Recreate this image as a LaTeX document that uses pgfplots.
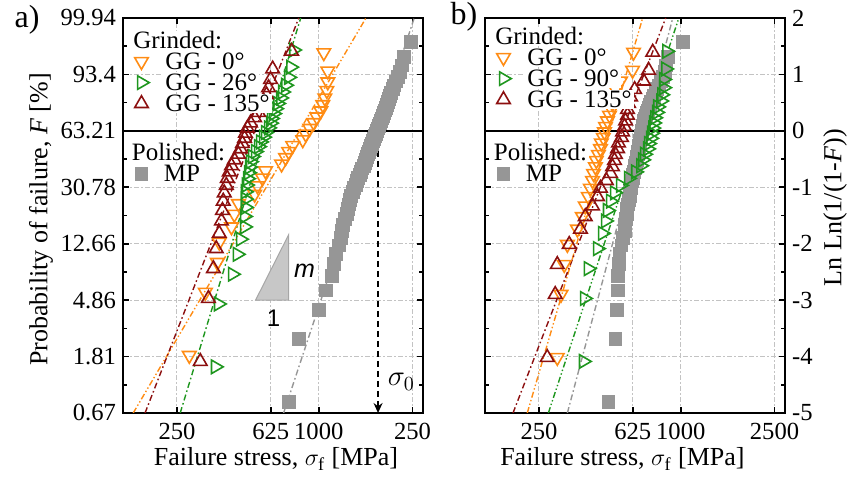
\documentclass[border=0pt]{standalone}
\usepackage{fontspec}
\setmainfont{Liberation Serif}
\newfontfamily\annosans{Liberation Sans}
\usepackage{pgfplots}
\pgfplotsset{compat=1.18}
\usetikzlibrary{arrows.meta}

\definecolor{ggorange}{RGB}{255,140,20}
\definecolor{gggreen}{RGB}{30,150,30}
\definecolor{ggred}{RGB}{140,15,15}
\definecolor{mpgray}{RGB}{150,150,150}
\definecolor{gridgray}{RGB}{195,195,195}

% Weibull data: failure stress [MPa] and ln(ln(1/(1-F)))
\pgfplotstableread{
x y
745 -4.800
822 -3.693
1000 -3.174
1071 -2.829
1136 -2.569
1159 -2.359
1182 -2.183
1217 -2.031
1241 -1.897
1253 -1.776
1266 -1.667
1291 -1.566
1316 -1.473
1329 -1.386
1342 -1.304
1356 -1.227
1369 -1.154
1396 -1.084
1410 -1.018
1438 -0.954
1452 -0.893
1467 -0.833
1496 -0.776
1510 -0.721
1525 -0.666
1555 -0.614
1571 -0.562
1586 -0.512
1602 -0.463
1618 -0.414
1634 -0.367
1650 -0.319
1666 -0.273
1683 -0.227
1699 -0.182
1716 -0.137
1733 -0.092
1750 -0.047
1767 -0.003
1785 0.042
1802 0.087
1820 0.132
1838 0.177
1856 0.222
1874 0.268
1893 0.315
1911 0.362
1930 0.411
1949 0.461
1968 0.512
1988 0.565
2007 0.620
2027 0.679
2067 0.740
2087 0.806
2129 0.878
2171 0.958
2214 1.050
2258 1.161
2302 1.310
2468 1.570
}\mpA

\pgfplotstableread{
x y
282 -3.980
330 -2.862
371 -2.331
378 -1.974
426 -1.702
438 -1.479
456 -1.290
534 -1.123
549 -0.973
577 -0.836
594 -0.708
695 -0.589
723 -0.475
745 -0.367
775 -0.261
855 -0.158
880 -0.057
915 0.044
952 0.145
981 0.248
1020 0.354
1040 0.465
1061 0.583
1082 0.715
1092 0.867
1092 1.061
1050 1.384
}\ggzeroA

\pgfplotstableread{
x y
364 -4.182
375 -3.068
430 -2.541
451 -2.188
465 -1.920
484 -1.702
484 -1.517
488 -1.356
488 -1.211
488 -1.080
493 -0.960
498 -0.848
503 -0.742
508 -0.642
513 -0.547
523 -0.455
539 -0.367
555 -0.280
566 -0.196
583 -0.112
594 -0.030
612 0.053
624 0.136
630 0.219
643 0.305
656 0.393
669 0.485
689 0.583
702 0.689
723 0.808
745 0.948
760 1.129
782 1.433
}\ggmidA

\pgfplotstableread{
x y
314 -4.086
340 -2.970
357 -2.442
367 -2.087
378 -1.817
386 -1.597
390 -1.410
393 -1.246
397 -1.099
405 -0.966
409 -0.842
417 -0.727
426 -0.618
438 -0.514
456 -0.415
465 -0.319
474 -0.225
484 -0.133
488 -0.042
498 0.049
513 0.140
534 0.232
555 0.327
566 0.425
583 0.529
600 0.640
612 0.765
624 0.910
637 1.097
767 1.410
}\ggoneA

\pgfplotstableread{
x y
493 -4.800
528 -3.693
534 -3.174
539 -2.829
539 -2.569
544 -2.359
549 -2.183
560 -2.031
566 -1.897
577 -1.776
577 -1.667
583 -1.566
589 -1.473
589 -1.386
594 -1.304
600 -1.227
606 -1.154
606 -1.084
612 -1.018
612 -0.954
618 -0.893
624 -0.833
624 -0.776
630 -0.721
637 -0.666
637 -0.614
643 -0.562
649 -0.512
649 -0.463
656 -0.414
656 -0.367
662 -0.319
662 -0.273
669 -0.227
669 -0.182
676 -0.137
676 -0.092
682 -0.047
682 -0.003
689 0.042
689 0.087
695 0.132
695 0.177
702 0.222
709 0.268
716 0.315
723 0.362
730 0.411
738 0.461
745 0.512
760 0.565
767 0.620
782 0.679
790 0.740
806 0.806
822 0.878
838 0.958
855 1.050
863 1.161
880 1.310
1020 1.570
}\mpB

\pgfplotstableread{
x y
299 -4.016
310 -2.899
320 -2.369
330 -2.013
364 -1.742
382 -1.520
393 -1.331
405 -1.165
413 -1.017
422 -0.881
426 -0.755
434 -0.637
438 -0.525
447 -0.419
456 -0.315
460 -0.215
469 -0.117
474 -0.019
479 0.078
488 0.176
498 0.276
508 0.379
513 0.487
523 0.603
528 0.732
555 0.882
624 1.074
630 1.393
}\ggzeroB

\pgfplotstableread{
x y
386 -4.086
390 -2.970
405 -2.442
443 -2.087
465 -1.817
479 -1.597
488 -1.410
503 -1.246
523 -1.099
555 -0.966
600 -0.842
643 -0.727
676 -0.618
689 -0.514
702 -0.415
723 -0.319
730 -0.225
745 -0.133
752 -0.042
760 0.049
767 0.140
775 0.232
790 0.327
798 0.425
822 0.529
830 0.640
846 0.765
846 0.910
863 1.097
872 1.410
}\ggmidB

\pgfplotstableread{
x y
271 -4.016
293 -2.899
299 -2.369
336 -2.013
375 -1.742
393 -1.520
422 -1.331
443 -1.165
456 -1.017
483 -0.881
503 -0.755
513 -0.637
523 -0.525
528 -0.419
539 -0.315
544 -0.215
560 -0.117
566 -0.019
577 0.078
583 0.176
594 0.276
594 0.379
600 0.487
612 0.603
637 0.732
695 0.882
730 1.074
760 1.393
}\ggoneB

\tikzset{
  fitline/.style={line width=0.7pt, dash pattern=on 3pt off 1.4pt on 0.8pt off 1.4pt},
  fitlineb/.style={line width=0.7pt, dash pattern=on 3pt off 1.2pt on 0.7pt off 1.2pt on 0.7pt off 1.2pt},
}
% legend look shared by all blocks (white only behind each entry)
\pgfplotsset{
  weiblegend/.style={
    legend cell align=left,
    legend style={draw=none, fill=none, font=\fontsize{12.5}{15}\selectfont,
      inner xsep=0.5pt, inner ysep=0pt, row sep=1.3pt, column sep=7pt,
      nodes={fill=white, inner ysep=0pt, inner xsep=1pt, text height=8.6pt, text depth=0.6pt}},
  },
}

\begin{document}
\begin{tikzpicture}
\path[use as bounding box] (-61.5pt,-36pt) rectangle (362pt,206.5pt);

% ---------------- panel a ----------------
\begin{axis}[
  name=A, at={(0pt,0pt)}, anchor=south west,
  scale only axis, width=150pt, height=197.5pt,
  xmode=log, xmin=147.5, xmax=2770, ymin=-5, ymax=2,
  xtick={250,625,1000,2500},
  xticklabels={250,625,1000,250},
  minor xtick={},
  ytick={-5,-4,-3,-2,-1,0,1,2},
  yticklabels={0.67,1.81,4.86,12.66,30.78,63.21,93.4,99.94},
  minor ytick={-4.5,-3.5,-2.5,-1.5,-0.5,0.5,1.5},
  grid=major,
  major grid style={gridgray, line width=0.5pt, dash pattern=on 2.5pt off 1.2pt on 0.6pt off 1.2pt},
  axis line style={line width=1pt},
  every tick/.style={black, line width=0.8pt},
  major tick length=3pt, minor tick length=2pt,
  every tick label/.append style={font=\fontsize{12.3}{14}\selectfont},
  every x tick label/.append style={yshift=-1.5pt},
  every axis label/.append style={font=\fontsize{13}{15}\selectfont},
  xlabel={Failure stress, $\sigma_{\mathrm{f}}$ [MPa]},
  ylabel={Probability of failure, \textit{F} [\%]},
  every axis x label/.append style={at={(axis description cs:0.51,-0.117)}, anchor=center},
  every axis y label/.append style={at={(axis description cs:-0.273,0.49)}, anchor=center},
  weiblegend,
  legend style={at={(axis description cs:0,1)}, anchor=north west, yshift=-6.5pt},
]
\addlegendimage{empty legend}\addlegendentry{\hspace*{-16pt}Grinded:}

% Weibull fits
\addplot[fitline, mpgray, forget plot] coordinates {(709,-5) (2542,2)};
\addplot[fitlineb, ggorange, forget plot] coordinates {(163,-5) (1586,2)};
\addplot[fitline, ggred, forget plot] coordinates {(183,-5) (822,2)};
\addplot[fitline, gggreen, forget plot] coordinates {(258,-5) (838,2)};

% polished specimens
\addplot[only marks, mark=square*, mark size=3.2pt, color=mpgray, forget plot] table {\mpA};

% ground specimens
\addplot[only marks, mark=triangle, mark size=3.9pt, color=ggorange,
  mark options={rotate=180, line width=0.8pt}] table {\ggzeroA};
\addlegendentry{GG - 0°}
\addplot[only marks, mark=triangle, mark size=3.9pt, color=gggreen,
  mark options={rotate=-90, line width=0.8pt}] table {\ggmidA};
\addlegendentry{GG - 26°}
\addplot[only marks, mark=triangle, mark size=3.9pt, color=ggred,
  mark options={line width=0.8pt}] table {\ggoneA};
\addlegendentry{GG - 135°}

% 63.21 % level and characteristic strength
\draw[black, line width=1pt] (axis cs:147.5,0) -- (axis cs:2770,0);
\draw[black, line width=0.8pt, dash pattern=on 3pt off 2pt, -{Stealth[length=5pt,width=4.5pt]}]
  (axis cs:1785,0) -- (axis cs:1785,-5);
\node[font=\fontsize{14}{16}\selectfont] at (axis cs:2240,-4.45) {$\sigma_0$};

% slope triangle
\filldraw[fill=black!22, draw=black!35, line width=0.5pt]
  (axis cs:539,-3) -- (axis cs:745,-3) -- (axis cs:745,-1.84) -- cycle;
\node[font=\annosans\fontsize{12.5}{14}\selectfont\itshape] at (axis cs:870,-2.48) {m};
\node[font=\annosans\fontsize{12}{14}\selectfont] at (axis cs:643,-3.32) {1};
\end{axis}

\begin{axis}[at={(0pt,0pt)}, anchor=south west,
  scale only axis, width=150pt, height=197.5pt, hide axis,
  xmode=log, xmin=147.5, xmax=2770, ymin=-5, ymax=2,
  weiblegend,
  legend style={at={(axis description cs:0,0.683)}, anchor=north west},
]
\addlegendimage{empty legend}\addlegendentry{\hspace*{-16pt}Polished:}
\addlegendimage{only marks, mark=square*, mark size=3.2pt, color=mpgray}\addlegendentry{MP}
\end{axis}

\node[font=\fontsize{16}{18}\selectfont] at (-48pt,196.5pt) {a)};

% ---------------- panel b ----------------
\begin{axis}[
  name=B, at={(181pt,0pt)}, anchor=south west,
  scale only axis, width=150pt, height=197.5pt,
  xmode=log, xmin=147.5, xmax=2770, ymin=-5, ymax=2,
  xtick={250,625,1000,2500},
  xticklabels={250,625,1000,2500},
  minor xtick={},
  ytick={-5,-4,-3,-2,-1,0,1,2},
  yticklabels={-5,-4,-3,-2,-1,0,1,2},
  yticklabel pos=right,
  minor ytick={-4.5,-3.5,-2.5,-1.5,-0.5,0.5,1.5},
  grid=major,
  major grid style={gridgray, line width=0.5pt, dash pattern=on 2.5pt off 1.2pt on 0.6pt off 1.2pt},
  axis line style={line width=1pt},
  every tick/.style={black, line width=0.8pt},
  major tick length=3pt, minor tick length=2pt,
  every tick label/.append style={font=\fontsize{12.3}{14}\selectfont},
  every x tick label/.append style={yshift=-1.5pt},
  every axis label/.append style={font=\fontsize{13}{15}\selectfont},
  xlabel={Failure stress, $\sigma_{\mathrm{f}}$ [MPa]},
  ylabel={Ln Ln(1/(1-\textit{F}))},
  every axis x label/.append style={at={(axis description cs:0.458,-0.117)}, anchor=center},
  every axis y label/.append style={at={(axis description cs:1.167,0.52)}, anchor=center},
  weiblegend,
  legend style={at={(axis description cs:0,1)}, anchor=north west, yshift=-4.5pt},
]
\addlegendimage{empty legend}\addlegendentry{\hspace*{-16pt}Grinded:}

\addplot[fitline, mpgray, forget plot] coordinates {(330,-5) (925,2)};
\addplot[fitlineb, ggorange, forget plot] coordinates {(223,-5) (689,2)};
\addplot[fitline, ggred, forget plot] coordinates {(194,-5) (863,2)};
\addplot[fitlineb, gggreen, forget plot] coordinates {(274,-5) (981,2)};

\addplot[only marks, mark=square*, mark size=3.2pt, color=mpgray, forget plot] table {\mpB};

\addplot[only marks, mark=triangle, mark size=3.9pt, color=ggorange,
  mark options={rotate=180, line width=0.8pt}] table {\ggzeroB};
\addlegendentry{GG - 0°}
\addplot[only marks, mark=triangle, mark size=3.9pt, color=gggreen,
  mark options={rotate=-90, line width=0.8pt}] table {\ggmidB};
\addlegendentry{GG - 90°}
\addplot[only marks, mark=triangle, mark size=3.9pt, color=ggred,
  mark options={line width=0.8pt}] table {\ggoneB};
\addlegendentry{GG - 135°}

\draw[black, line width=1pt] (axis cs:147.5,0) -- (axis cs:2770,0);
\end{axis}

\begin{axis}[at={(181pt,0pt)}, anchor=south west,
  scale only axis, width=150pt, height=197.5pt, hide axis,
  xmode=log, xmin=147.5, xmax=2770, ymin=-5, ymax=2,
  weiblegend,
  legend style={at={(axis description cs:0,0.683)}, anchor=north west},
]
\addlegendimage{empty legend}\addlegendentry{\hspace*{-16pt}Polished:}
\addlegendimage{only marks, mark=square*, mark size=3.2pt, color=mpgray}\addlegendentry{MP}
\end{axis}

\node[font=\fontsize{16}{18}\selectfont] at (170.5pt,198pt) {b)};
\end{tikzpicture}
\end{document}
